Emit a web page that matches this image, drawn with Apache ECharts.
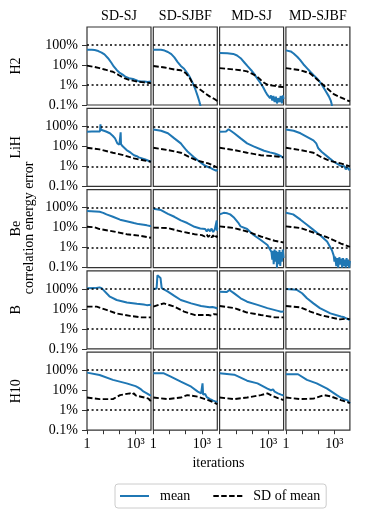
<!DOCTYPE html>
<html>
<head>
<meta charset="utf-8">
<script src="https://cdn.jsdelivr.net/npm/echarts@6/dist/echarts.min.js"></script>
<style>
  html, body { margin: 0; padding: 0; background: #fff; }
  #chart { width: 382px; height: 515px; }
</style>
</head>
<body>
<div id="chart"></div>
<script>
// rows = molecules, columns = wavefunction type
const molecules = ['H2', 'LiH', 'Be', 'B', 'H10'];
const methods = ['SD-SJ', 'SD-SJBF', 'MD-SJ', 'MD-SJBF'];

// reference lines (percent)
const refLevels = [100, 1];
const xTickValues = [1, 10, 100, 1000];
const xLabelValues = [1, 1000];
const yTickValues = [0.1, 1, 10, 100];

// [iteration, error %], one list per panel
const meanH2 = [
  [[1,58],[2,58],[3,56],[5,50],[8,42],[12,34],[20,22],[32,13],[45,8.5],[70,5.5],[100,4.2],[130,3.6],[160,3.3],[250,2.5],[400,2.2],[700,2.0],[1000,1.8],[1400,1.6],[1800,1.9],[2200,1.5],[2800,1.8],[3500,1.5],[4500,1.8],[5600,1.4],[7000,1.7],[9000,1.5]],
  [[1,58],[3,58],[5,53],[8,45],[13,35],[20,24],[32,14],[50,9],[80,6.5],[125,4],[180,2.5],[280,1.2],[400,0.6],[560,0.27],[700,0.15],[850,0.08]],
  [[1,40],[3,39],[7,36],[12,30],[20,22],[35,13],[55,8.5],[90,5.5],[140,3.5],[220,2.0],[350,1.2],[500,0.75],[700,0.45],[900,0.32],[1100,0.35],[1300,0.22],[1500,0.3],[1800,0.17],[2100,0.28],[2500,0.14],[3000,0.26],[3500,0.12],[4200,0.22],[5000,0.14],[6000,0.28],[7000,0.12],[8000,0.3],[9000,0.2]],
  [[1,54],[2,48],[3,38],[5,26],[7.5,18],[12,11],[20,7],[32,4.6],[50,3.2],[80,2.2],[120,1.5],[170,1.0],[250,0.6],[450,0.27],[600,0.16],[720,0.09]]
];
const sdH2 = [
  [[1,9.3],[3,8],[6,7],[12,6],[25,5],[40,4.6],[70,3.6],[100,3.0],[200,2.2],[400,1.8],[800,1.6],[1600,1.45],[3200,1.35],[9000,1.25]],
  [[1,9],[5,7.5],[20,6],[50,5.5],[100,4],[180,2.2],[280,1.1],[500,0.75],[900,0.55],[1500,0.4],[3000,0.27],[6000,0.2],[9000,0.16]],
  [[1,7],[8,6],[20,5.5],[50,4.8],[100,3.7],[200,2.7],[350,1.8],[560,1.3],[1000,1.0],[2500,0.9],[5000,0.82],[9000,0.8]],
  [[1,7],[8,5.5],[32,3.8],[100,1.7],[280,0.8],[900,0.35],[4000,0.2],[9000,0.15]]
];

const meanLiH = [
  [[1,54],[2,55],[4,56],[6.3,55],[6.8,125],[7.3,68],[10,62],[15,55],[26,45],[40,33],[54,25],[75,14],[100,12],[115,11],[120,50],[126,13],[160,10],[280,6.5],[500,4.8],[800,3.6],[1200,3.2],[1600,2.8],[2000,3.1],[2500,2.5],[3200,2.7],[4000,2.2],[5000,2.4],[6300,1.9],[8000,2.0],[9000,1.7]],
  [[1,70],[3,60],[8,45],[20,25],[50,14],[70,10],[100,7],[130,5.5],[160,4.6],[300,3],[560,2],[1000,1.4],[1500,1.1],[1800,1.3],[2200,0.95],[2700,1.15],[3200,0.85],[4000,1.0],[5000,0.7],[6300,0.85],[8000,0.6],[9000,0.7]],
  [[1,54],[2.5,55],[3.6,72],[4.5,58],[8,45],[20,25],[50,14],[126,10],[560,6],[1300,5],[2500,4.4],[3200,4.8],[4000,3.8],[5000,4.4],[6300,3.2],[8000,3.8],[9000,2.6]],
  [[1,70],[3,60],[8,45],[20,30],[50,20],[75,14],[100,8],[160,5.4],[200,4.5],[500,2.5],[1000,1.6],[2200,1.1],[3000,1.0],[3500,0.8],[4200,1.0],[5000,0.7],[6300,0.9],[8000,0.65],[9000,0.78]]
];
const sdLiH = [
  [[1,8.5],[6,7],[20,5.5],[40,4.8],[180,3.6],[800,2.5],[3000,2.0],[9000,1.7]],
  [[1,8.5],[8,6.5],[50,4.8],[160,3],[560,1.9],[2500,1.4],[5000,1.1],[6300,1.25],[8000,0.9],[9000,0.95]],
  [[1,8.5],[8,6.5],[50,4.8],[350,3.6],[2500,3.2],[9000,2.8]],
  [[1,8.5],[8,6.5],[50,4.8],[160,2.8],[500,1.9],[2400,1.4],[9000,1.0]]
];

const meanBe = [
  [[1,68],[6,62],[10,55],[16,46],[40,35],[110,25],[280,21],[800,17],[1500,15],[3200,14],[5000,13],[6300,14],[8000,12],[9000,12.5]],
  [[1,89],[3,76],[8,49],[20,35],[50,23],[126,17],[350,11],[800,9],[1600,8.5],[2000,6.5],[2500,8.5],[3200,6.5],[4000,9],[5000,6],[6300,8],[7500,6.5],[8300,23],[8600,7],[9000,10]],
  [[1,46],[1.8,55],[3,52],[4.5,46],[8,31],[14,18],[20,11.5],[50,8.5],[126,4.3],[350,2.4],[900,1.35],[1600,0.6],[1800,0.25],[2000,0.7],[2200,0.15],[2500,0.8],[2800,0.2],[3200,0.7],[3500,0.1],[4000,0.6],[4500,0.15],[5000,0.75],[5600,0.12],[6300,0.6],[7000,0.2],[8000,0.8],[9000,0.3]],
  [[1,55],[2.8,46],[8,25],[20,14],[50,7.7],[126,4.3],[350,2],[700,0.74],[900,0.4],[1000,0.2],[1100,0.35],[1300,0.12],[1500,0.3],[1700,0.1],[2000,0.33],[2300,0.14],[2600,0.28],[3000,0.1],[3400,0.3],[3900,0.12],[4500,0.25],[5000,0.1],[5600,0.3],[6300,0.12],[7000,0.25],[8000,0.1],[9000,0.22]]
];
const sdBe = [
  [[1,11],[3,10.5],[6,8.5],[40,6.5],[280,4.7],[2000,3.9],[9000,3.1]],
  [[1,10],[8,9.5],[50,6.5],[350,4.7],[1000,4.2],[1500,3.6],[2000,4.5],[2500,3.4],[3200,4.3],[4000,3.2],[5000,4.2],[6300,3.0],[8000,3.9],[9000,3.2]],
  [[1,11.5],[8,9.5],[50,6.4],[350,3.6],[2500,2.2],[9000,1.8]],
  [[1,11.5],[8,9.5],[50,5.7],[350,3.3],[2500,1.6],[9000,1.1]]
];

const meanB = [
  [[1,108],[3,110],[6,120],[8,110],[10,89],[26,41],[68,28],[290,21],[1200,18],[3200,16.5],[5000,15.5],[9000,16]],
  [[1,100],[1.6,105],[1.8,480],[2.2,420],[2.8,350],[3.3,110],[4,95],[8,73],[20,45],[50,28],[220,19],[900,14],[3000,12],[4500,12.5],[5600,10.5],[7000,11.5],[9000,10.5]],
  [[1,73],[2.8,70],[4,89],[5,75],[8,60],[20,34],[50,23],[220,16],[900,11],[4000,8],[5000,8.5],[6300,7.2],[8000,8],[9000,7.4]],
  [[1,98],[4.5,92],[10,61],[20,34],[50,19],[126,11],[560,6],[2500,4.2],[3200,4.5],[4000,3.8],[5000,3.9],[6300,3.2],[8000,3.3],[9000,2.8]]
];
const sdB = [
  [[1,13],[4,13],[16,9],[63,6],[450,4.5],[2000,3.8],[9000,3.8]],
  [[1,13],[2.2,16],[4.5,19],[20,13],[80,7.4],[350,5],[2500,5],[4000,4.6],[5600,5.5],[7000,4.8],[9000,5.3]],
  [[1,14],[8,11],[50,6.6],[350,5],[2500,3.8],[9000,3.8]],
  [[1,14],[8,12],[32,7.4],[126,5],[560,3.8],[2200,3],[6000,3.3],[9000,3.0]]
];

const meanH10 = [
  [[1,76],[6,58],[40,33],[280,22],[1000,16],[1400,14],[1800,15],[2200,11],[2800,12],[3200,8.5],[4000,9.5],[5000,7],[6300,7.5],[8000,5.5],[9000,5.7]],
  [[1,70],[4.5,70],[12,48],[50,27],[220,15],[560,8.5],[900,7],[1100,22],[1200,6],[1600,6.5],[2000,4.5],[2500,5],[3200,3.6],[4000,4],[5000,3],[6300,3.2],[8000,2.6],[9000,2.8]],
  [[1,70],[8,60],[50,30],[220,22],[900,12],[1500,10],[2000,11],[2500,8.5],[3200,9],[4000,7],[5000,7.8],[6300,6],[8000,6.5],[9000,5.5]],
  [[1,63],[5.6,63],[20,33],[80,22],[350,12],[1400,5.7],[2500,4.2],[3200,4.4],[4500,3.4],[6300,3.2],[8000,2.5],[9000,2.2]]
];
const sdH10 = [
  [[1,4.3],[6,3.6],[40,3.6],[110,5.7],[450,7],[600,6],[800,7],[1000,5.5],[1600,5],[2000,4.2],[2500,4.6],[3200,3.8],[4000,4.2],[5000,3.5],[6300,3.8],[8000,3.0],[9000,3.2]],
  [[1,4.3],[8,3.6],[50,4.3],[126,5.7],[560,4.8],[2500,3.2],[5000,2.5],[9000,2.0]],
  [[1,4.3],[8,3.6],[50,4.3],[350,5.7],[900,7],[1600,5.5],[4000,4],[9000,3.2]],
  [[1,4.3],[8,3.6],[50,3.8],[220,5.7],[560,5],[2500,3.2],[9000,2.3]]
];

const meanRows = [meanH2, meanLiH, meanBe, meanB, meanH10];
const sdRows = [sdH2, sdLiH, sdBe, sdB, sdH10];

const FONT = '"Liberation Serif", "DejaVu Serif", serif';
const FS = 14;
const BLUE = '#1f77b4';

// panel layout
const left0 = 87, top0 = 27, panelW = 64, panelH = 78, stepX = 66.3, stepY = 81.3;

const grids = [], xAxes = [], yAxes = [], series = [], graphics = [];

molecules.forEach((mol, r) => {
  methods.forEach((meth, c) => {
    const i = r * methods.length + c;
    const bottomRow = r === molecules.length - 1;
    const firstCol = c === 0;
    grids.push({
      left: left0 + c * stepX, top: top0 + r * stepY, width: panelW, height: panelH,
      show: true, borderColor: '#333', borderWidth: 1.2, backgroundColor: 'transparent'
    });
    xAxes.push({
      type: 'log', logBase: 10, gridIndex: i, min: 1, max: 9000,
      axisLine: { show: false }, splitLine: { show: false },
      axisTick: { show: bottomRow, length: 4, customValues: xTickValues, lineStyle: { color: '#333', width: 1 } },
      axisLabel: {
        show: bottomRow, customValues: xLabelValues, margin: 7,
        formatter: v => v >= 100 ? '10³' : '1',
        color: '#000', fontFamily: FONT, fontSize: FS
      }
    });
    yAxes.push({
      type: 'log', logBase: 10, gridIndex: i, min: 0.1, max: 800,
      axisLine: { show: false }, splitLine: { show: false },
      axisTick: { show: firstCol, length: 5, customValues: yTickValues, lineStyle: { color: '#333', width: 1 } },
      axisLabel: {
        show: firstCol, customValues: yTickValues, margin: 9,
        formatter: v => (v < 0.5 ? '0.1' : String(Math.round(v))) + '%',
        color: '#000', fontFamily: FONT, fontSize: FS
      }
    });
    series.push({
      type: 'line', name: 'mean', xAxisIndex: i, yAxisIndex: i,
      data: meanRows[r][c], symbol: 'none', showSymbol: false,
      lineStyle: { color: BLUE, width: 2 }, itemStyle: { color: BLUE },
      z: 3
    });
    series.push({
      type: 'line', name: 'SD of mean', xAxisIndex: i, yAxisIndex: i,
      data: sdRows[r][c], symbol: 'none', showSymbol: false,
      lineStyle: { color: '#000', width: 1.9, type: [5.5, 2.4] }, itemStyle: { color: '#000' },
      z: 4,
      markLine: {
        silent: true, symbol: ['none', 'none'], label: { show: false },
        lineStyle: { color: '#000', width: 1.6, type: [2, 2.6] },
        data: refLevels.map(v => ({ yAxis: v }))
      }
    });
  });
});

// column titles
methods.forEach((meth, c) => {
  graphics.push({
    type: 'text', x: left0 + c * stepX + panelW / 2, y: 16,
    style: { text: meth, font: FS + 'px ' + FONT, fill: '#000', textAlign: 'center', textVerticalAlign: 'middle' }
  });
});
// row labels
molecules.forEach((mol, r) => {
  graphics.push({
    type: 'text', x: 16, y: top0 + r * stepY + panelH / 2, rotation: Math.PI / 2,
    style: { text: mol, font: FS + 'px ' + FONT, fill: '#000', textAlign: 'center', textVerticalAlign: 'middle' }
  });
});
graphics.push({
  type: 'text', x: 29, y: 228, rotation: Math.PI / 2,
  style: { text: 'correlation energy error', font: FS + 'px ' + FONT, fill: '#000', textAlign: 'center', textVerticalAlign: 'middle' }
});
graphics.push({
  type: 'text', x: 218.5, y: 463,
  style: { text: 'iterations', font: FS + 'px ' + FONT, fill: '#000', textAlign: 'center', textVerticalAlign: 'middle' }
});

const chart = echarts.init(document.getElementById('chart'), null, { renderer: 'canvas' });
chart.setOption({
  animation: false,
  backgroundColor: '#fff',
  grid: grids,
  xAxis: xAxes,
  yAxis: yAxes,
  series: series,
  graphic: graphics,
  legend: {
    data: ['mean', 'SD of mean'],
    left: 115, top: 484,
    itemWidth: 29, itemHeight: 14, itemGap: 22,
    padding: [5, 6, 5, 4],
    borderColor: '#ccc', borderWidth: 1, borderRadius: 3, backgroundColor: '#fff',
    itemStyle: { opacity: 0 },
    textStyle: { fontFamily: FONT, fontSize: FS, color: '#000', padding: [0, 0, 0, 6] }
  }
});
</script>
</body>
</html>
